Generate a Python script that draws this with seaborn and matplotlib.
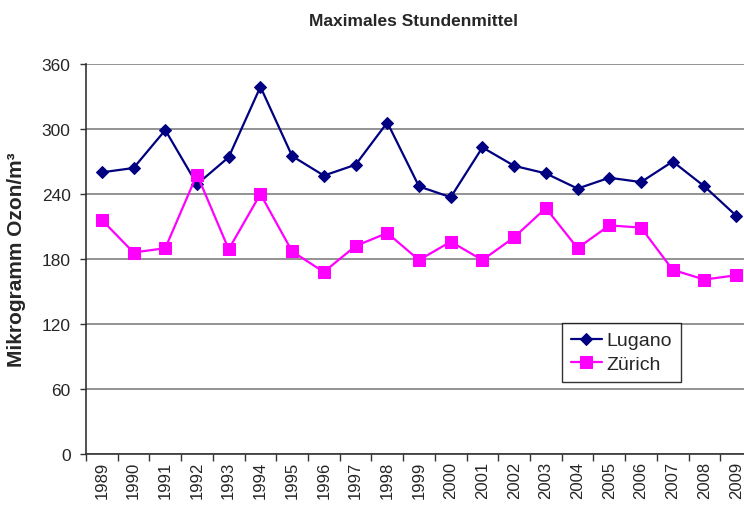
import seaborn as sns
import matplotlib
matplotlib.use('Agg')
import matplotlib.pyplot as plt
import pandas as pd
from matplotlib.ticker import FixedLocator

years = list(range(1989, 2010))
lugano = [260, 264, 299, 249, 274, 339, 275, 257, 267, 306, 247, 237, 283, 266,
          259, 245, 255, 251, 270, 247, 220]
zurich = [216, 186, 190, 258, 189, 240, 187, 168, 192, 204, 179, 196, 179, 200,
          227, 190, 211, 209, 170, 161, 165]
y_ticks = [0, 60, 120, 180, 240, 300, 360]

df = pd.DataFrame({'Jahr': years, 'Lugano': lugano, 'Zürich': zurich})

sns.set_theme(style='white')
plt.rcParams['font.family'] = ['Liberation Sans', 'DejaVu Sans']

fig = plt.figure(figsize=(7.44, 5.06), dpi=100)
ax = fig.add_axes([86 / 744, 1 - 455 / 506, 666 / 744, 390 / 506])

sns.lineplot(data=df, x='Jahr', y='Lugano', color='#000080', marker='D',
             markersize=6, markeredgecolor='#000080', linewidth=1.6,
             label='Lugano', ax=ax)
sns.lineplot(data=df, x='Jahr', y='Zürich', color='#ff00ff', marker='s',
             markersize=8, markeredgecolor='#ff00ff', linewidth=1.6,
             label='Zürich', ax=ax)

ax.set_xlim(years[0] - 0.5, years[-1] + 0.5)
ax.set_ylim(0, 360)
ax.set_yticks(y_ticks)
ax.yaxis.grid(True, color='#808080', linewidth=1.2)
ax.set_axisbelow(True)

ax.set_xticks(years)
ax.set_xticklabels([str(y) for y in years], rotation=90, fontsize=12)
ax.xaxis.set_minor_locator(FixedLocator([y - 0.5 for y in years] + [years[-1] + 0.5]))
ax.tick_params(axis='x', which='major', length=0, pad=5)
ax.tick_params(axis='x', which='minor', bottom=True, length=5, width=1, color='#333333', direction='out')
ax.tick_params(axis='y', left=True, length=4, width=1, color='#333333', direction='out',
               pad=7, labelsize=12.5)

for s in ['top', 'right']:
    ax.spines[s].set_visible(False)
for s in ['left', 'bottom']:
    ax.spines[s].set_color('#333333')
    ax.spines[s].set_linewidth(1.2)

ax.set_xlabel('')
ax.set_ylabel('Mikrogramm Ozon/m³', fontsize=15, fontweight='bold')
ax.yaxis.set_label_coords(-0.09, 0.5)

fig.text(414 / 744, 1 - 22 / 506, 'Maximales Stundenmittel', ha='center', va='center',
         fontsize=12.5, fontweight='bold')

leg = ax.legend(loc='upper left', bbox_to_anchor=(562 / 744, 1 - 324 / 506),
                bbox_transform=fig.transFigure, fontsize=14, frameon=True,
                fancybox=False, edgecolor='black', handlelength=1.6,
                handletextpad=0.25, borderpad=0.45, labelspacing=0.3,
                borderaxespad=0)
leg.get_frame().set_linewidth(1.0)

fig.savefig('out.png', dpi=100)
